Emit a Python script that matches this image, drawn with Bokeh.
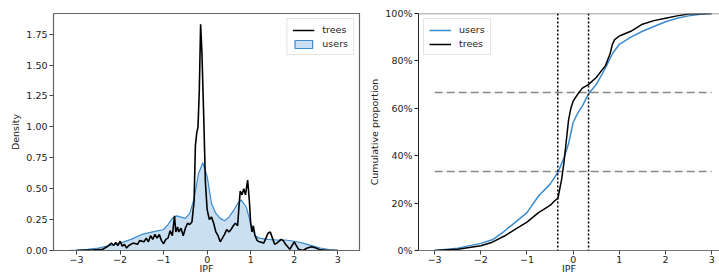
from bokeh.plotting import figure
from bokeh.layouts import row
from bokeh.models import Range1d, Legend, LegendItem, Span, FixedTicker
from bokeh.embed import file_html
from bokeh.resources import INLINE

# ---- data: density panel ----
users_x = [-3.2, -3.0, -2.75, -2.5, -2.25, -2.0, -1.75, -1.5, -1.25, -1.0, -0.9, -0.8, -0.7, -0.6, -0.5,
           -0.4, -0.3, -0.2, -0.1, 0.0, 0.1, 0.2, 0.3, 0.4, 0.5, 0.6, 0.7, 0.78, 0.9, 1.0, 1.1, 1.2,
           1.4, 1.6, 1.8, 2.0, 2.2, 2.4, 2.6, 2.8, 3.0, 3.15]
users_d = [0.0, 0.003, 0.01, 0.02, 0.04, 0.06, 0.09, 0.13, 0.15, 0.17, 0.21, 0.26, 0.28, 0.27, 0.26,
           0.30, 0.42, 0.62, 0.71, 0.60, 0.38, 0.30, 0.26, 0.24, 0.27, 0.32, 0.38, 0.41, 0.35, 0.22, 0.12, 0.10,
           0.09, 0.085, 0.085, 0.075, 0.06, 0.04, 0.02, 0.008, 0.002, 0.0]

trees_x = [-3.0, -2.6, -2.4, -2.3, -2.2, -2.15, -2.1, -2.05, -2.0, -1.95, -1.9, -1.85, -1.8, -1.7, -1.6,
           -1.55, -1.45, -1.4, -1.35, -1.3, -1.25, -1.2, -1.15, -1.1, -1.05, -1.0, -0.95, -0.9, -0.85, -0.8,
           -0.75, -0.72, -0.68, -0.65, -0.6, -0.55, -0.5, -0.45, -0.4, -0.35, -0.3, -0.27, -0.24, -0.21,
           -0.18, -0.15, -0.12, -0.08, -0.04, 0.0, 0.05, 0.1, 0.15, 0.2, 0.25, 0.3, 0.35, 0.4, 0.45, 0.5,
           0.55, 0.6, 0.65, 0.7, 0.73, 0.76, 0.8, 0.84, 0.88, 0.93, 0.97, 1.0, 1.03, 1.06, 1.1, 1.15, 1.2,
           1.3, 1.4, 1.45, 1.5, 1.55, 1.6, 1.7, 1.75, 1.8, 1.9, 2.0, 2.05, 2.1, 2.2, 2.3, 2.4, 2.5, 2.6,
           2.8, 3.0]
trees_d = [0.0, 0.005, 0.01, 0.03, 0.06, 0.04, 0.065, 0.04, 0.075, 0.035, 0.05, 0.02, 0.04, 0.06, 0.05,
           0.08, 0.07, 0.10, 0.07, 0.12, 0.09, 0.13, 0.10, 0.13, 0.08, 0.055, 0.09, 0.10, 0.16, 0.12,
           0.28, 0.15, 0.19, 0.15, 0.18, 0.12, 0.18, 0.22, 0.21, 0.23, 0.40, 0.85, 0.95, 1.0,
           1.3, 1.83, 1.6, 1.1, 0.55, 0.33, 0.25, 0.27, 0.22, 0.15, 0.12, 0.07, 0.10, 0.13, 0.17, 0.15,
           0.17, 0.20, 0.22, 0.20, 0.35, 0.48, 0.45, 0.50, 0.45, 0.57, 0.40, 0.22, 0.15, 0.20, 0.12, 0.08, 0.07,
           0.06, 0.14, 0.15, 0.10, 0.05, 0.06, 0.09, 0.08, 0.05, 0.01, 0.07, 0.04, 0.01, 0.0, 0.02, 0.03, 0.02, 0.005,
           0.0, 0.0]

# ---- data: ECDF panel ----
ecdf_users_x = [-3.0, -2.5, -2.0, -1.75, -1.5, -1.25, -1.0, -0.75, -0.5, -0.33, -0.2, -0.1, 0.0, 0.1, 0.2,
                0.33, 0.5, 0.7, 0.85, 1.0, 1.25, 1.5, 1.75, 2.0, 2.25, 2.5, 2.75, 3.0]
ecdf_users_p = [0.0, 0.01, 0.03, 0.045, 0.08, 0.12, 0.16, 0.23, 0.28, 0.33, 0.39, 0.45, 0.54, 0.58, 0.61,
                0.66, 0.70, 0.77, 0.83, 0.87, 0.90, 0.925, 0.945, 0.965, 0.98, 0.99, 0.997, 1.0]
ecdf_trees_x = [-3.0, -2.5, -2.0, -1.75, -1.5, -1.25, -1.0, -0.75, -0.5, -0.4, -0.33, -0.3, -0.25, -0.2,
                -0.15, -0.1, -0.05, 0.0, 0.05, 0.1, 0.2, 0.33, 0.5, 0.7, 0.8, 0.85, 0.9, 1.0, 1.25, 1.5,
                1.75, 2.0, 2.25, 2.5, 3.0]
ecdf_trees_p = [0.0, 0.005, 0.02, 0.035, 0.06, 0.09, 0.12, 0.16, 0.19, 0.21, 0.22, 0.25, 0.30, 0.37,
                0.46, 0.55, 0.60, 0.63, 0.645, 0.66, 0.685, 0.70, 0.73, 0.78, 0.83, 0.87, 0.89, 0.905, 0.925, 0.955,
                0.97, 0.98, 0.99, 0.998, 1.0]

x_ticks = [-3, -2, -1, 0, 1, 2, 3]
x_tick_labels = ["\u22123", "\u22122", "\u22121", "0", "1", "2", "3"]
dens_ticks = [0.0, 0.25, 0.5, 0.75, 1.0, 1.25, 1.5, 1.75]
dens_tick_labels = ["0.00", "0.25", "0.50", "0.75", "1.00", "1.25", "1.50", "1.75"]
prop_ticks = [0.0, 0.2, 0.4, 0.6, 0.8, 1.0]
prop_tick_labels = ["0%", "20%", "40%", "60%", "80%", "100%"]
thirds = [1/3, 2/3]
vlines = [-1/3, 1/3]

BLUE = "#3a8bd0"
FONT = "DejaVu Sans"
FS = "9.5px"


def style(p, xt, xl, yt, yl, ylabel):
    p.xaxis.ticker = FixedTicker(ticks=xt)
    p.xaxis.major_label_overrides = {t: l for t, l in zip(xt, xl)}
    p.yaxis.ticker = FixedTicker(ticks=yt)
    p.yaxis.major_label_overrides = {t: l for t, l in zip(yt, yl)}
    for ax in (p.xaxis[0], p.yaxis[0]):
        ax.major_tick_in = 0
        ax.major_tick_out = 4
        ax.minor_tick_line_color = None
        ax.major_label_text_font = FONT
        ax.major_label_text_font_size = FS
        ax.major_label_text_color = "#222222"
        ax.axis_label_text_font = FONT
        ax.axis_label_text_font_size = FS
        ax.axis_label_text_font_style = "normal"
        ax.axis_label_text_color = "#222222"
        ax.major_label_standoff = 2
        ax.axis_label_standoff = 2
    p.xaxis.major_label_standoff = 1
    p.xaxis.axis_label_standoff = -3
    p.xaxis.axis_label = "IPF"
    p.yaxis.axis_label = ylabel
    p.grid.grid_line_color = None
    p.background_fill_color = "white"
    p.border_fill_color = "white"


# ---- left panel ----
p1 = figure(width=362, height=278, output_backend="svg", toolbar_location=None,
            x_range=Range1d(-3.53, 3.5), y_range=Range1d(0, 1.917),
            min_border_left=53, min_border_right=3, min_border_top=13, min_border_bottom=28)
style(p1, x_ticks, x_tick_labels, dens_ticks, dens_tick_labels, "Density")
p1.xaxis.axis_line_color = "#666666"
p1.yaxis.axis_line_color = "#666666"
p1.xaxis.major_tick_line_color = "#444444"
p1.yaxis.major_tick_line_color = "#444444"
p1.outline_line_color = "#666666"
p1.outline_line_width = 1.2

r_users = p1.patch(users_x, users_d, fill_color=BLUE, fill_alpha=0.27,
                   line_color=BLUE, line_width=1.2)
r_trees = p1.line(trees_x, trees_d, line_color="black", line_width=1.6)

leg1 = Legend(items=[LegendItem(label="trees", renderers=[r_trees]),
                     LegendItem(label="users", renderers=[r_users])],
              location="top_right")
p1.add_layout(leg1)

# ---- right panel ----
p2 = figure(width=357, height=278, output_backend="svg", toolbar_location=None,
            x_range=Range1d(-3.35, 3.17), y_range=Range1d(0, 1),
            min_border_left=56, min_border_right=0, min_border_top=13, min_border_bottom=28)
style(p2, x_ticks, x_tick_labels, prop_ticks, prop_tick_labels, "Cumulative proportion")
p2.outline_line_color = None
p2.xaxis.axis_line_color = "#777777"
p2.yaxis.axis_line_color = "#222222"
p2.xaxis.major_tick_line_color = "#444444"
p2.yaxis.major_tick_line_color = "#222222"
p2.add_layout(Span(location=1.0, dimension="width", line_color="#808080", line_width=1.5))

for y in thirds:
    p2.line([x_ticks[0], x_ticks[-1]], [y, y], line_color="#888888", line_width=1.5, line_dash="8 4")
for xv in vlines:
    p2.add_layout(Span(location=xv, dimension="height", line_color="black",
                       line_width=1.5, line_dash="2 2"))

r2_users = p2.line(ecdf_users_x, ecdf_users_p, line_color=BLUE, line_width=1.5)
r2_trees = p2.line(ecdf_trees_x, ecdf_trees_p, line_color="black", line_width=1.5)

leg2 = Legend(items=[LegendItem(label="users", renderers=[r2_users]),
                     LegendItem(label="trees", renderers=[r2_trees])],
              location="top_left")
p2.add_layout(leg2)

for lg in (leg1, leg2):
    lg.label_text_font = FONT
    lg.label_text_font_size = FS
    lg.label_text_color = "#222222"
    lg.border_line_color = "#cccccc"
    lg.border_line_width = 1
    lg.background_fill_alpha = 0.9
    lg.glyph_width = 22
    lg.glyph_height = 10
    lg.label_height = 10
    lg.spacing = 3
    lg.padding = 5
    lg.margin = 5
    lg.label_standoff = 8

layout = row(p1, p2)
open("out.html", "w").write(file_html(layout, INLINE))
